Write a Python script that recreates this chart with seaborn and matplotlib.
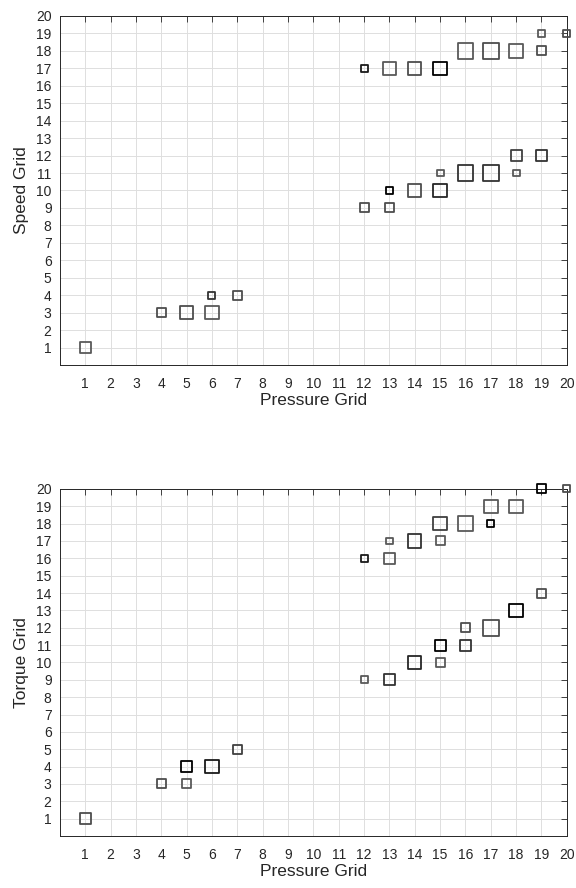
import numpy as np
import pandas as pd
import matplotlib
matplotlib.use("Agg")
import matplotlib.pyplot as plt
import seaborn as sns

# ---- data: Speed vs Pressure ----
sp_pressure = [1, 4, 5, 6, 6, 7, 12, 13, 13, 14, 15, 15, 16, 17, 18, 18, 19,
               12, 13, 14, 15, 16, 17, 18, 19, 19, 20]
sp_speed = [1, 3, 3, 3, 4, 4, 9, 9, 10, 10, 10, 11, 11, 11, 11, 12, 12,
            17, 17, 17, 17, 18, 18, 18, 18, 19, 19]
sp_count = [3, 2, 4, 4, 1, 2, 2, 2, 1, 4, 4, 1, 5, 5, 1, 3, 3,
            1, 4, 4, 4, 5, 5, 4, 2, 1, 1]
sp_tone = [0.35, 0.3, 0.3, 0.35, 0.2, 0.3, 0.3, 0.3, 0.0, 0.3, 0.15, 0.35, 0.2, 0.2, 0.35, 0.25, 0.2,
           0.1, 0.35, 0.3, 0.0, 0.35, 0.3, 0.35, 0.3, 0.35, 0.3]

# ---- data: Torque vs Pressure ----
tq_pressure = [1, 4, 5, 5, 6, 7, 12, 13, 14, 15, 15, 16, 16, 17, 18, 19,
               12, 13, 13, 14, 15, 15, 16, 17, 17, 18, 19, 20]
tq_torque = [1, 3, 3, 4, 4, 5, 9, 9, 10, 10, 11, 11, 12, 12, 13, 14,
             16, 16, 17, 17, 17, 18, 18, 18, 19, 19, 20, 20]
tq_count = [3, 2, 2, 3, 4, 2, 1, 3, 4, 2, 3, 3, 2, 5, 4, 2,
            1, 3, 1, 4, 2, 4, 5, 1, 4, 4, 2, 1]
tq_tone = [0.3, 0.3, 0.35, 0.0, 0.1, 0.25, 0.35, 0.2, 0.15, 0.35, 0.0, 0.2, 0.3, 0.3, 0.0, 0.3,
           0.1, 0.35, 0.35, 0.2, 0.35, 0.25, 0.35, 0.0, 0.35, 0.35, 0.0, 0.3]

ticks = list(range(1, 21))
size_areas = {1: 25, 2: 42, 3: 62, 4: 95, 5: 125}

sns.set_theme(style="white")
plt.rcParams['font.family'] = ['Liberation Sans', 'DejaVu Sans']

fig = plt.figure(figsize=(5.76, 8.88), dpi=100)
ax1 = fig.add_axes([0.104, 0.589, 0.880, 0.393])
ax2 = fig.add_axes([0.104, 0.0586, 0.880, 0.3908])

def draw(ax, x, y, cnt, tone, ylabel):
    df = pd.DataFrame({"x": x, "y": y, "count": cnt})
    sns.scatterplot(data=df, x="x", y="y", size="count", sizes=size_areas,
                    marker="s", legend=False, ax=ax, clip_on=False, zorder=3)
    coll = ax.collections[-1]
    coll.set_facecolor("none")
    coll.set_edgecolor([(t, t, t) for t in tone])
    coll.set_linewidth(1.3)
    ax.set_xlim(0, 20)
    ax.set_ylim(0, 20)
    ax.set_xticks(ticks)
    ax.set_yticks(ticks)
    ax.grid(True, color="#dedede", linewidth=0.7, zorder=0)
    ax.set_axisbelow(True)
    ax.tick_params(direction="in", length=4, width=0.6, top=True, right=True,
                   labelsize=10, colors="#262626", pad=6)
    ax.tick_params(axis="x", pad=9)
    for s in ax.spines.values():
        s.set_color("#262626")
        s.set_linewidth(0.7)
        s.set_visible(True)
    ax.set_xlabel("Pressure Grid", fontsize=12.5, color="#262626", labelpad=1)
    ax.set_ylabel(ylabel, fontsize=12.5, color="#262626", labelpad=5)

draw(ax1, sp_pressure, sp_speed, sp_count, sp_tone, "Speed Grid")
draw(ax2, tq_pressure, tq_torque, tq_count, tq_tone, "Torque Grid")

fig.savefig("out.png", dpi=100)
